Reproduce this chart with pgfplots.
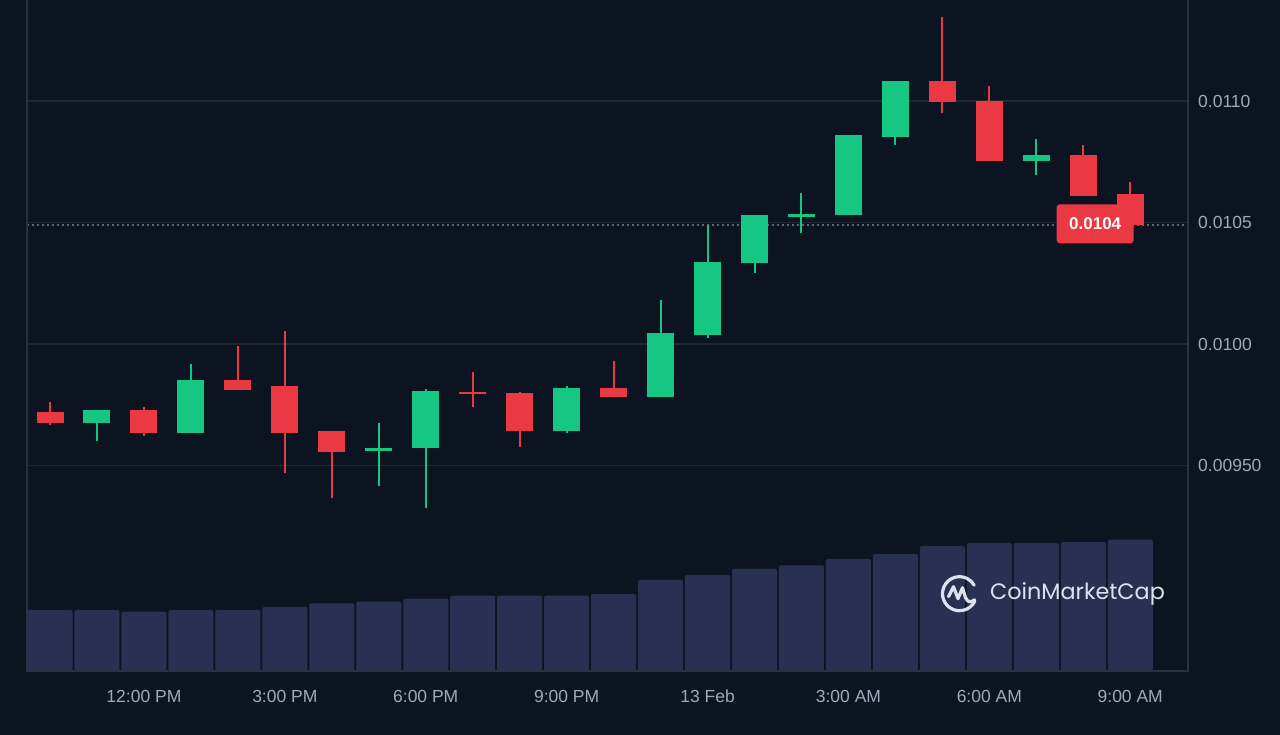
\documentclass[border=0pt]{standalone}
\usepackage{fontspec}
\setmainfont{Liberation Sans}
\newfontfamily\logofont{Poppins}
\usepackage{pgfplots}
\pgfplotsset{compat=1.18}
\usepackage{pgfplotstable}

\definecolor{bg}{HTML}{0D1421}
\definecolor{up}{HTML}{16C784}
\definecolor{down}{HTML}{EA3943}
\definecolor{vol}{HTML}{283152}
\definecolor{gridc}{HTML}{1F2634}
\definecolor{axc}{HTML}{2A3142}
\definecolor{lbl}{HTML}{A1A7BB}
\definecolor{logoc}{HTML}{DDE2EE}

% hourly candles, x = hours after 10:00 AM (12 Feb)
\pgfplotstableread{
x  open      high      low       close
1  0.0096762 0.0097285 0.0096021 0.0097285
3  0.0096350 0.0099190 0.0096350 0.0098519
7  0.0095610 0.0096737 0.0094170 0.0095709
8  0.0095709 0.0098136 0.0093240 0.0098066
11 0.0096420 0.0098272 0.0096350 0.0098202
13 0.0097807 0.0101811 0.0097807 0.0100441
14 0.0100371 0.0104897 0.0100247 0.0103387
15 0.0103321 0.0105309 0.0102935 0.0105309
16 0.0105239 0.0106227 0.0104556 0.0105350
17 0.0105309 0.0108601 0.0105309 0.0108601
18 0.0108531 0.0110830 0.0108189 0.0110830
21 0.0107543 0.0108436 0.0106955 0.0107778
}\upcandles

\pgfplotstableread{
x  open      high      low       close
0  0.0097215 0.0097626 0.0096667 0.0096762
2  0.0097285 0.0097396 0.0096227 0.0096350
4  0.0098519 0.0099918 0.0098108 0.0098108
5  0.0098272 0.0100535 0.0094705 0.0096350
6  0.0096420 0.0096420 0.0093651 0.0095556
9  0.0098038 0.0098836 0.0097396 0.0097943
10 0.0097997 0.0098038 0.0095774 0.0096420
12 0.0098202 0.0099313 0.0097807 0.0097807
19 0.0110830 0.0113444 0.0109494 0.0109971
20 0.0110012 0.0110630 0.0107543 0.0107543
22 0.0107778 0.0108189 0.0106091 0.0106091
23 0.0106161 0.0106655 0.0104897 0.0104897
}\downcandles

\pgfplotstableread{
x  vol
0  61.0
1  61.0
2  59.3
3  61.0
4  61.0
5  64.0
6  67.7
7  69.3
8  72.3
9  75.3
10 75.3
11 75.3
12 77.0
13 91.0
14 96.0
15 102.0
16 105.7
17 112.0
18 117.0
19 125.0
20 128.0
21 128.0
22 129.0
23 131.3
}\volume

\begin{document}
\begin{tikzpicture}[x=1pt,y=1pt]
\fill[bg] (0,0) rectangle (1280,735);
\useasboundingbox (0,0) rectangle (1280,735);

% volume
\begin{axis}[at={(27pt,64pt)}, anchor=south west, scale only axis,
  width=1161pt, height=671pt,
  xmin=-0.49, xmax=24.23, ymin=0, ymax=671,
  axis lines=none, ybar, bar width=45pt]
\addplot[fill=vol, draw=none, rounded corners=2pt] table[x=x,y=vol]{\volume};
\end{axis}

% price
\begin{axis}[at={(27pt,64pt)}, anchor=south west, scale only axis,
  width=1161pt, height=671pt,
  xmin=-0.49, xmax=24.23, ymin=0.0086544, ymax=0.0114156,
  axis line style={draw=none},
  scaled y ticks=false,
  ytick={0.0095,0.0100,0.0105,0.0110},
  yticklabels={0.00950,0.0100,0.0105,0.0110},
  yticklabel pos=right,
  ymajorgrids, major grid style={gridc, line width=1.2pt},
  xtick={2,5,8,11,14,17,20,23},
  xticklabels={12:00 PM,3:00 PM,6:00 PM,9:00 PM,13 Feb,3:00 AM,6:00 AM,9:00 AM},
  major tick length=0pt, tick style={draw=none},
  ticklabel style={font=\fontsize{17.5}{20}\selectfont, text=lbl},
  yticklabel style={anchor=west, inner sep=0pt, xshift=10pt},
  xticklabel style={anchor=base, inner sep=0pt, yshift=-32pt},
  clip=false]

% dotted current-price line
\addplot[color=lbl!55!bg, line width=1.2pt, dash pattern=on 1.5pt off 3.5pt, forget plot]
  coordinates {(-0.49,0.0104897) (24.23,0.0104897)};

% wicks
\addplot[draw=none, mark=none, forget plot,
  error bars/.cd, y dir=plus, y explicit, error mark=none,
  error bar style={draw=up, line width=2pt}]
  table[x=x, y=low, y error plus expr=\thisrow{high}-\thisrow{low}]{\upcandles};
\addplot[draw=none, mark=none, forget plot,
  error bars/.cd, y dir=plus, y explicit, error mark=none,
  error bar style={draw=down, line width=2pt}]
  table[x=x, y=low, y error plus expr=\thisrow{high}-\thisrow{low}]{\downcandles};
% bodies
\addplot[draw=none, mark=none, forget plot,
  error bars/.cd, y dir=plus, y explicit, error mark=none,
  error bar style={draw=up, line width=27pt}]
  table[x=x, y=open, y error plus expr=\thisrow{close}-\thisrow{open}]{\upcandles};
\addplot[draw=none, mark=none, forget plot,
  error bars/.cd, y dir=plus, y explicit, error mark=none,
  error bar style={draw=down, line width=27pt}]
  table[x=x, y=close, y error plus expr=\thisrow{open}-\thisrow{close}]{\downcandles};

% current price tag
\node[fill=down, rounded corners=3pt, minimum width=77pt, minimum height=39pt,
  inner sep=0pt, text=white, font=\bfseries\fontsize{17}{20}\selectfont]
  at (axis cs:22.253,0.0104947) {0.0104};
\end{axis}

% frame
\draw[axc, line width=1.2pt] (27,735) -- (27,64) -- (1188,64) -- (1188,735);

% watermark
\begin{scope}[shift={(959.5,141.3)}, logoc, line width=3.2pt, line cap=round, line join=round]
  \draw (-25:17) arc[start angle=-25, end angle=-330, radius=17];
  \draw (-11,-3) -- (-6,7) -- (-1.5,-5) -- (3,6) -- (6,-4) .. controls (8,-9) and (12,-9) .. (15,-6);
\end{scope}
\node[anchor=west, inner sep=0pt, text=logoc, font=\logofont\fontsize{22.3}{25}\selectfont]
  at (990,141.3) {CoinMarketCap};
\end{tikzpicture}
\end{document}
